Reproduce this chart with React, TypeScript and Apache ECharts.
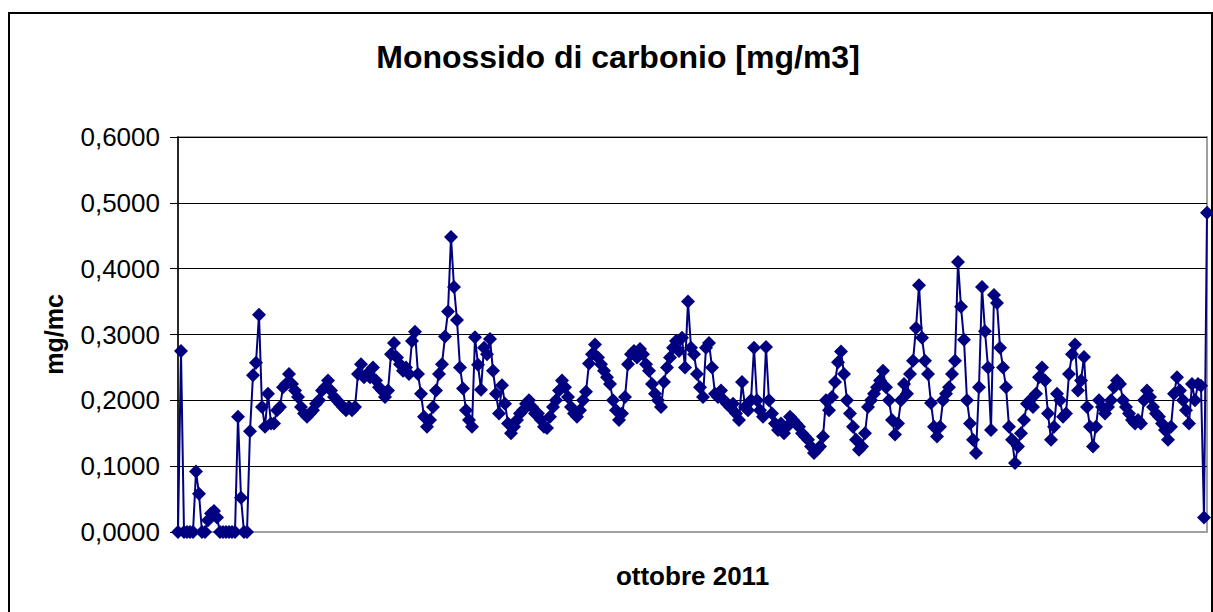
import React, { useEffect, useRef } from "react";
import * as echarts from "echarts";

const TITLE = "Monossido di carbonio [mg/m3]";
const Y_NAME = "mg/mc";
const X_NAME = "ottobre 2011";
const Y_TICKS = [0, 0.1, 0.2, 0.3, 0.4, 0.5, 0.6];

// readings, in order along the month
const valuesA = [
  0, 0.275, 0, 0, 0, 0, 0.092, 0.058, 0, 0,
  0.018, 0.028, 0.032, 0.022, 0, 0, 0, 0, 0, 0,
  0.175, 0.052, 0, 0, 0.153, 0.238, 0.257, 0.33, 0.19, 0.16,
  0.21, 0.165, 0.165, 0.185, 0.19, 0.22, 0.225, 0.24, 0.225, 0.215,
  0.205, 0.19, 0.18, 0.175, 0.18, 0.185, 0.195, 0.2, 0.215, 0.22,
  0.23, 0.215, 0.205, 0.2, 0.195, 0.19, 0.185, 0.19, 0.185, 0.19,
  0.24, 0.255, 0.235, 0.24, 0.235, 0.25, 0.23, 0.22, 0.215, 0.205,
  0.215, 0.27, 0.287, 0.265, 0.255, 0.245, 0.25, 0.24, 0.29, 0.304,
  0.24, 0.21, 0.175, 0.16, 0.17, 0.19, 0.215, 0.24, 0.255, 0.297,
  0.335, 0.448, 0.372, 0.322, 0.25, 0.218, 0.185, 0.17, 0.16, 0.296,
];
const valuesB = [
  0.254, 0.216, 0.28, 0.27, 0.293, 0.245, 0.21, 0.18, 0.223, 0.195,
  0.165, 0.15, 0.16, 0.17, 0.18, 0.185, 0.195, 0.2, 0.19, 0.18,
  0.18, 0.17, 0.16, 0.158, 0.175, 0.19, 0.2, 0.215, 0.23, 0.22,
  0.205, 0.19, 0.18, 0.175, 0.185, 0.2, 0.213, 0.256, 0.27, 0.285,
  0.265, 0.255, 0.245, 0.235, 0.225, 0.2, 0.185, 0.17, 0.18, 0.205,
  0.255, 0.27, 0.275, 0.265, 0.278, 0.27, 0.255, 0.245, 0.225, 0.21,
  0.2, 0.19, 0.228, 0.25, 0.265, 0.28, 0.29, 0.275, 0.295, 0.25,
  0.35, 0.28, 0.27, 0.24, 0.22, 0.205, 0.28, 0.287, 0.25, 0.21,
  0.205, 0.215, 0.2, 0.195, 0.19, 0.195, 0.18, 0.17, 0.228, 0.19,
  0.185, 0.2, 0.28, 0.2, 0.185, 0.175, 0.281, 0.2, 0.18, 0.165,
];
const valuesC = [
  0.155, 0.165, 0.15, 0.16, 0.175, 0.17, 0.165, 0.16, 0.15, 0.145,
  0.14, 0.13, 0.12, 0.125, 0.13, 0.145, 0.2, 0.185, 0.205, 0.228,
  0.258, 0.274, 0.24, 0.2, 0.18, 0.16, 0.14, 0.125, 0.13, 0.15,
  0.19, 0.2, 0.21, 0.22, 0.23, 0.245, 0.22, 0.2, 0.17, 0.148,
  0.165, 0.2, 0.225, 0.21, 0.24, 0.26, 0.31, 0.375, 0.295, 0.26,
  0.24, 0.196, 0.16, 0.145, 0.16, 0.2, 0.21, 0.22, 0.24, 0.26,
  0.41, 0.342, 0.292, 0.2, 0.165, 0.14, 0.12, 0.22, 0.372, 0.305,
  0.25, 0.155, 0.36, 0.348, 0.28, 0.25, 0.22, 0.16, 0.14, 0.105,
  0.13, 0.15, 0.17, 0.195, 0.2, 0.19, 0.21, 0.235, 0.25, 0.23,
  0.18, 0.14, 0.16, 0.21, 0.2, 0.175, 0.18, 0.24, 0.27, 0.285,
];
const valuesD = [
  0.215, 0.23, 0.266, 0.19, 0.16, 0.13, 0.16, 0.2, 0.19, 0.18,
  0.19, 0.2, 0.22, 0.23, 0.225, 0.2, 0.19, 0.18, 0.17, 0.165,
  0.17, 0.165, 0.2, 0.215, 0.205, 0.19, 0.18, 0.175, 0.165, 0.155,
  0.14, 0.16, 0.21, 0.235, 0.215, 0.2, 0.185, 0.165, 0.225, 0.2,
  0.225, 0.222, 0.022, 0.485,
];

const values = [...valuesA, ...valuesB, ...valuesC, ...valuesD];
const categories = values.map((_, i) => String(i + 1));

const FONT = "'Liberation Sans', Arial, sans-serif";

export default function App() {
  const ref = useRef<HTMLDivElement>(null);
  useEffect(() => {
    if (!ref.current) return;
    const chart = echarts.init(ref.current, null, { renderer: "svg" });
    chart.setOption({
      animation: false,
      backgroundColor: "#ffffff",
      graphic: [
        {
          type: "rect",
          shape: { x: 9, y: 13, width: 1203, height: 620 },
          style: { fill: "none", stroke: "#000000", lineWidth: 2 },
          silent: true,
        },
        {
          type: "text",
          x: 618,
          y: 57,
          style: {
            text: TITLE,
            font: `bold 32px ${FONT}`,
            fill: "#000000",
            textAlign: "center",
            textVerticalAlign: "middle",
          },
        },
      ],
      grid: {
        left: 178,
        top: 137,
        right: 6,
        bottom: 80,
        show: true,
        borderColor: "#a0a0a0",
        borderWidth: 2,
        backgroundColor: "transparent",
      },
      xAxis: {
        type: "category",
        data: categories,
        boundaryGap: false,
        axisLabel: { show: false },
        axisTick: { show: false },
        axisLine: { show: true, lineStyle: { color: "#a0a0a0", width: 2 } },
        splitLine: { show: false },
        name: X_NAME,
        nameLocation: "middle",
        nameGap: 31,
        nameTextStyle: {
          fontFamily: FONT,
          fontWeight: "bold",
          fontSize: 26,
          color: "#000000",
        },
      },
      yAxis: {
        type: "value",
        min: Y_TICKS[0],
        max: Y_TICKS[Y_TICKS.length - 1],
        interval: 0.1,
        axisLine: { show: true, lineStyle: { color: "#000000", width: 1.5 } },
        axisTick: { show: true, inside: false, length: 8, lineStyle: { color: "#000000" } },
        axisLabel: {
          margin: 18,
          fontFamily: FONT,
          fontSize: 26,
          color: "#000000",
          formatter: (v: number) => v.toFixed(4).replace(".", ","),
        },
        splitLine: {
          show: true,
          lineStyle: { color: "#000000", width: 1.2 },
        },
        name: Y_NAME,
        nameLocation: "middle",
        nameGap: 112,
        nameRotate: 90,
        nameTextStyle: {
          fontFamily: FONT,
          fontWeight: "bold",
          fontSize: 25,
          color: "#000000",
        },
      },
      series: [
        {
          type: "line",
          data: values,
          symbol: "diamond",
          symbolSize: 14,
          showAllSymbol: true,
          clip: false,
          lineStyle: { color: "#000080", width: 2 },
          itemStyle: { color: "#000080" },
          emphasis: { disabled: true },
          z: 3,
        },
      ],
    });
    return () => chart.dispose();
  }, []);
  return (
    <div
      ref={ref}
      style={{ position: "absolute", left: 0, top: 0, width: 1213, height: 612 }}
    />
  );
}
